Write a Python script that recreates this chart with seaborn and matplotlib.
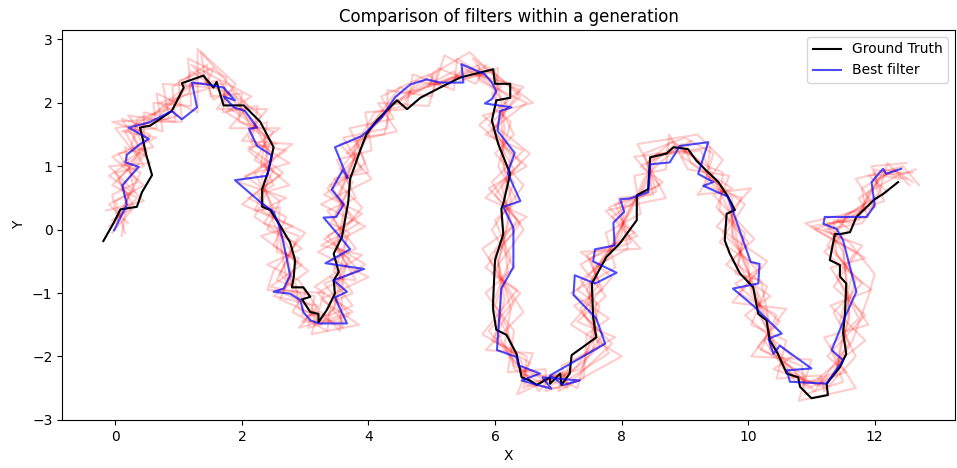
import numpy as np
import pandas as pd
import matplotlib
matplotlib.use("Agg")
import matplotlib.pyplot as plt
import seaborn as sns

# ground truth trajectory
truth_x = [-0.19, -0.03, 0.08, 0.34, 0.42, 0.58, 0.49, 0.44, 0.39, 0.55, 0.89, 1.08, 1.05, 1.39, 1.55, 1.60, 1.71, 2.03,
           2.29, 2.50, 2.42, 2.32, 2.32, 2.45, 2.61, 2.76, 2.84, 2.82, 2.79, 2.97, 3.08, 2.95, 3.08, 3.21, 3.21, 3.34,
           3.47, 3.45, 3.53, 3.45, 3.58, 3.68, 3.71, 3.87, 3.97, 4.13, 4.45, 4.61, 4.82, 5.13, 5.45, 5.97, 6.00, 6.24,
           6.24, 6.02, 5.95, 6.05, 6.24, 6.13, 6.10, 6.13, 6.00, 5.97, 5.97, 6.02, 6.18, 6.34, 6.42, 6.55, 6.66, 6.87,
           6.87, 7.03, 7.05, 7.18, 7.21, 7.60, 7.55, 7.53, 7.76, 7.97, 8.24, 8.24, 8.42, 8.45, 8.71, 8.82, 9.05, 9.18,
           9.34, 9.53, 9.68, 9.79, 9.66, 9.63, 9.71, 9.87, 10.08, 10.16, 10.29, 10.34, 10.47, 10.61, 10.79, 10.82,
           11.00, 11.26, 11.24, 11.45, 11.55, 11.50, 11.53, 11.55, 11.45, 11.45, 11.29, 11.37, 11.45, 11.61, 11.71,
           12.00, 12.13, 12.37]
truth_y = [-0.18, 0.10, 0.32, 0.36, 0.59, 0.86, 1.17, 1.40, 1.61, 1.64, 1.87, 2.24, 2.31, 2.43, 2.24, 2.33, 1.96, 1.96,
           1.70, 1.30, 0.93, 0.64, 0.36, 0.31, 0.05, -0.20, -0.48, -0.74, -0.91, -0.91, -1.06, -1.10, -1.30, -1.33,
           -1.46, -1.27, -1.01, -0.80, -0.67, -0.38, -0.12, 0.43, 0.80, 1.25, 1.51, 1.72, 2.04, 1.90, 2.08, 2.24, 2.40,
           2.53, 2.30, 2.30, 2.08, 2.04, 1.72, 1.35, 0.88, 0.41, 0.33, -0.07, -0.48, -1.11, -1.27, -1.58, -1.66, -1.96,
           -2.33, -2.38, -2.45, -2.33, -2.43, -2.27, -2.45, -2.27, -1.98, -1.70, -1.38, -0.85, -0.43, -0.22, 0.15,
           0.54, 0.64, 1.14, 1.20, 1.30, 1.27, 1.09, 0.93, 0.75, 0.52, 0.31, 0.25, -0.17, -0.38, -0.69, -0.91, -1.33,
           -1.43, -1.74, -1.96, -2.27, -2.33, -2.48, -2.66, -2.61, -2.43, -2.17, -1.96, -1.63, -1.33, -0.85, -0.74,
           -0.56, -0.48, -0.07, -0.07, -0.04, 0.20, 0.48, 0.56, 0.75]

# best filter estimate
best_x = [-0.02, 0.18, 0.11, 0.37, 0.16, 0.18, 0.39, 0.53, 0.21, 0.53, 0.89, 1.05, 1.29, 1.21, 1.45, 1.71, 1.89, 1.71,
          1.87, 2.05, 2.24, 2.11, 2.24, 2.47, 2.40, 1.89, 2.32, 2.50, 2.58, 2.66, 2.76, 2.66, 2.50, 2.76, 2.92, 2.97,
          3.08, 3.21, 3.66, 3.47, 3.66, 3.45, 3.93, 3.32, 3.71, 3.54, 3.29, 3.49, 3.61, 3.42, 3.60, 3.67, 3.47, 3.90,
          4.21, 4.42, 4.66, 4.92, 5.13, 5.50, 5.47, 5.84, 5.95, 6.02, 5.95, 5.84, 6.26, 6.08, 6.04, 6.31, 6.20, 6.40,
          6.13, 6.29, 6.29, 6.10, 6.03, 6.34, 6.37, 6.71, 6.42, 6.89, 6.75, 7.34, 7.08, 6.87, 7.74, 7.60, 7.24, 7.26,
          7.58, 7.92, 7.55, 7.58, 7.89, 7.87, 8.04, 7.98, 8.13, 8.42, 8.45, 8.76, 8.92, 9.37, 9.21, 9.45, 9.29, 9.68,
          10.04, 10.18, 10.16, 9.76, 10.08, 10.53, 10.32, 10.40, 10.50, 11.00, 10.61, 10.66, 11.24, 11.50, 11.32,
          11.53, 11.71, 11.50, 11.40, 11.19, 11.21, 11.87, 12.00, 11.95, 12.13, 12.18, 12.42]
best_y = [-0.01, 0.39, 0.70, 0.99, 1.06, 1.18, 1.35, 1.43, 1.61, 1.69, 1.87, 1.74, 1.93, 2.32, 2.29, 2.24, 2.04, 2.10,
          1.93, 1.87, 1.61, 1.59, 1.32, 1.17, 0.85, 0.78, 0.41, 0.28, 0.09, -0.22, -0.72, -0.93, -0.98, -1.01, -1.11,
          -1.30, -1.43, -1.48, -1.48, -1.07, -0.98, -0.80, -0.62, -0.53, -0.31, -0.10, 0.19, 0.20, 0.40, 0.63, 0.95,
          0.81, 1.30, 1.48, 1.77, 2.09, 2.29, 2.37, 2.32, 2.32, 2.61, 2.45, 2.32, 2.18, 2.06, 1.99, 1.93, 1.87, 1.56,
          1.21, 0.89, 0.45, 0.36, 0.03, -0.59, -0.93, -1.90, -2.01, -2.14, -2.27, -2.38, -2.51, -2.33, -2.38, -2.45,
          -2.30, -1.80, -1.40, -1.03, -0.72, -0.85, -0.68, -0.50, -0.31, -0.25, 0.11, 0.28, 0.48, 0.49, 0.59, 1.03,
          1.06, 1.32, 1.38, 0.88, 0.75, 0.69, 0.52, -0.51, -0.54, -0.85, -0.93, -1.20, -1.64, -1.72, -1.96, -1.83,
          -2.19, -2.22, -2.40, -2.43, -2.06, -1.90, -1.38, -0.98, -0.17, 0.01, 0.09, 0.20, 0.20, 0.38, 0.75, 0.96,
          0.88, 0.96]

# other filters of the generation
filt1_x = [0.05, -0.05, 0.35, 0.05, 0.6, 0.2, 0.95, 0.9, 1.45, 1.5, 2.0, 1.95, 2.5, 2.2, 2.6, 2.1, 2.7, 2.5, 2.95,
           2.45, 3.15, 3.05, 3.7, 3.3, 3.85, 3.35, 3.75, 3.4, 3.9, 3.6, 4.3, 4.3, 5.0, 5.1, 5.7, 5.85, 6.4, 5.9, 6.4,
           6.0, 6.35, 5.9, 6.3, 5.95, 6.5, 6.45, 7.05, 7.1, 7.8, 7.35, 7.65, 7.5, 8.15, 7.9, 8.55, 8.35, 9.0, 9.45,
           9.3, 9.9, 9.6, 10.15, 9.85, 10.45, 10.2, 10.85, 10.9, 11.5, 11.3, 11.75, 11.4, 11.7, 11.05, 11.85, 11.8,
           12.3, 12.6]
filt1_y = [0.1, 0.55, 0.75, 1.2, 1.3, 1.8, 1.7, 2.25, 2.6, 2.1, 2.15, 1.7, 1.55, 1.1, 0.85, 0.5, 0.2, -0.25, -0.55,
           -0.9, -1.05, -1.55, -1.35, -0.85, -0.65, -0.1, 0.15, 0.7, 0.95, 1.45, 1.6, 2.2, 2.1, 2.55, 2.3, 2.6, 2.1,
           1.65, 1.05, 0.55, 0.15, -0.45, -1.15, -1.75, -2.0, -2.5, -2.25, -2.4, -1.95, -1.25, -0.85, -0.45, -0.2,
           0.4, 0.6, 1.2, 1.45, 1.2, 0.7, 0.5, -0.05, -0.65, -1.0, -1.35, -1.9, -2.15, -2.6, -2.4, -1.85, -1.4,
           -0.75, -0.35, 0.0, 0.3, 0.65, 0.95, 0.75]
filt2_x = [-0.05, 0.3, 0.0, 0.45, 0.15, 0.65, 0.6, 1.2, 1.15, 1.75, 1.7, 2.25, 2.15, 2.7, 2.2, 2.5, 2.35, 2.9, 2.6,
           2.95, 2.8, 3.35, 3.4, 3.75, 3.4, 3.8, 3.35, 3.8, 3.5, 4.05, 3.95, 4.6, 4.7, 5.35, 5.4, 6.1, 5.95, 6.3, 6.0,
           6.45, 5.95, 6.3, 5.85, 6.3, 6.2, 6.8, 6.8, 7.4, 7.45, 7.8, 7.2, 7.9, 7.75, 8.3, 8.2, 8.7, 8.75, 9.05, 9.7,
           9.5, 10.0, 9.75, 10.3, 10.05, 10.6, 10.45, 11.15, 11.2, 11.7, 11.35, 11.8, 11.25, 11.5, 11.55, 12.15,
           11.95, 12.5]
filt2_y = [0.15, 0.35, 0.9, 1.0, 1.55, 1.6, 2.0, 1.95, 2.7, 2.4, 1.85, 1.95, 1.35, 1.25, 0.9, 0.35, 0.1, -0.1, -0.7,
           -1.05, -1.3, -1.6, -1.15, -1.0, -0.5, -0.3, 0.3, 0.5, 1.1, 1.25, 1.85, 1.9, 2.45, 2.2, 2.7, 2.25, 2.15,
           1.5, 1.2, 0.7, 0.0, -0.6, -1.0, -1.6, -2.25, -2.2, -2.55, -2.35, -1.65, -1.4, -1.0, -0.6, -0.05, 0.25,
           0.85, 0.95, 1.5, 0.95, 0.85, 0.35, -0.2, -0.5, -0.9, -1.5, -1.75, -2.35, -2.3, -2.55, -2.0, -1.3, -0.85,
           -0.25, 0.1, 0.25, 0.45, 1.0, 1.05]
filt3_x = [0.1, 0.2, 0.1, 0.5, 0.25, 0.35, 1.0, 0.95, 1.2, 1.7, 1.95, 2.0, 2.45, 2.35, 2.5, 2.25, 2.65, 2.6, 2.7,
           2.85, 2.9, 3.3, 3.6, 3.45, 3.7, 3.5, 3.65, 3.5, 3.8, 3.75, 4.1, 4.55, 4.75, 5.25, 5.5, 5.9, 6.2, 6.1,
           6.15, 6.3, 6.1, 6.2, 6.0, 6.2, 6.3, 6.7, 6.9, 7.3, 7.5, 7.65, 7.3, 7.75, 7.85, 8.2, 8.3, 8.55, 8.85, 9.25,
           9.55, 9.65, 9.85, 9.9, 10.2, 10.15, 10.5, 10.6, 11.05, 11.3, 11.6, 11.45, 11.65, 11.4, 11.35, 11.65, 12.0,
           12.05, 12.35]
filt3_y = [-0.1, 0.55, 0.65, 1.25, 1.3, 1.75, 1.95, 1.95, 2.5, 2.15, 1.85, 1.85, 1.4, 1.05, 0.7, 0.55, 0.0, -0.15,
           -0.75, -0.85, -1.25, -1.4, -1.55, -0.95, -0.45, -0.35, 0.35, 0.5, 1.15, 1.25, 1.85, 1.95, 2.35, 2.25,
           2.55, 2.3, 1.95, 1.75, 0.95, 0.75, 0.2, -0.65, -1.2, -1.55, -2.2, -2.4, -2.3, -2.5, -1.75, -1.2, -0.95,
           -0.4, -0.25, 0.45, 0.6, 1.2, 1.2, 1.25, 0.6, 0.6, -0.25, -0.45, -1.1, -1.3, -1.95, -2.1, -2.55, -2.2,
           -1.8, -1.45, -0.7, -0.4, 0.15, 0.1, 0.7, 0.8, 0.95]
filt4_x = [-0.1, 0.35, -0.05, 0.2, 0.55, -0.05, 0.85, 0.75, 1.45, 1.35, 2.1, 1.8, 2.6, 2.1, 2.75, 2.4, 2.2, 2.95,
           2.4, 2.9, 3.2, 2.95, 3.6, 3.2, 3.95, 3.3, 3.9, 3.3, 3.95, 3.7, 4.4, 4.2, 4.95, 5.1, 5.75, 5.75, 6.5, 5.85,
           6.45, 5.95, 6.45, 5.95, 6.4, 5.9, 6.45, 6.5, 7.15, 7.05, 7.9, 7.3, 7.75, 7.35, 8.2, 7.85, 8.65, 8.3, 9.1,
           8.95, 9.75, 9.45, 10.1, 9.65, 10.35, 9.95, 10.7, 10.4, 11.25, 11.1, 11.85, 11.3, 11.95, 11.2, 11.6, 11.4,
           12.2, 11.9, 12.6]
filt4_y = [0.05, 0.5, 0.7, 0.95, 1.5, 1.7, 1.75, 2.3, 2.25, 2.8, 1.95, 1.6, 1.6, 1.25, 0.7, 0.6, 0.2, -0.3, -0.55,
           -0.8, -1.25, -1.45, -1.45, -1.0, -0.55, -0.15, 0.25, 0.55, 1.05, 1.6, 1.75, 2.1, 2.45, 2.3, 2.6, 2.35,
           2.0, 1.5, 1.25, 0.75, 0.0, -0.7, -1.0, -1.6, -2.25, -2.2, -2.5, -2.15, -1.7, -1.45, -1.05, -0.55, -0.05,
           0.2, 0.75, 1.0, 1.4, 1.15, 0.65, 0.55, -0.15, -0.55, -1.05, -1.35, -2.0, -2.2, -2.5, -2.35, -1.75, -1.2,
           -0.95, -0.35, 0.0, 0.15, 0.6, 0.85, 0.9]
filt5_x = [0.05, 0.1, 0.4, 0.1, 0.45, 0.45, 0.7, 1.1, 1.25, 1.65, 1.8, 2.2, 2.25, 2.5, 2.3, 2.45, 2.5, 2.75, 2.85,
           2.65, 3.1, 3.15, 3.45, 3.55, 3.55, 3.65, 3.45, 3.7, 3.65, 3.95, 4.05, 4.5, 4.8, 5.3, 5.6, 6.0, 6.1, 6.15,
           6.1, 6.25, 6.2, 6.05, 6.15, 6.0, 6.4, 6.55, 7.0, 7.2, 7.65, 7.5, 7.5, 7.65, 8.0, 8.05, 8.45, 8.45, 8.95,
           9.15, 9.45, 9.75, 9.75, 10.0, 10.05, 10.3, 10.35, 10.7, 10.95, 11.4, 11.45, 11.6, 11.55, 11.5, 11.25,
           11.75, 11.9, 12.15, 12.4]
filt5_y = [0.2, 0.3, 0.9, 1.05, 1.25, 1.85, 1.8, 2.2, 2.3, 2.35, 2.1, 1.7, 1.55, 1.1, 0.85, 0.4, 0.1, -0.3, -0.55,
           -1.0, -1.2, -1.5, -1.25, -0.8, -0.7, -0.15, 0.15, 0.65, 0.9, 1.4, 1.65, 2.15, 2.2, 2.4, 2.4, 2.5, 2.0,
           1.6, 1.15, 0.5, 0.05, -0.5, -1.1, -1.7, -2.05, -2.4, -2.35, -2.25, -1.85, -1.3, -0.85, -0.55, -0.1, 0.4,
           0.65, 1.15, 1.25, 1.15, 0.8, 0.4, -0.05, -0.65, -0.9, -1.45, -1.8, -2.3, -2.4, -2.25, -1.95, -1.3, -0.85,
           -0.25, 0.1, 0.15, 0.6, 0.85, 0.8]
filt6_x = [0.0, 0.25, -0.1, 0.35, 0.0, 0.55, 1.05, 1.0, 1.55, 1.45, 1.9, 2.3, 2.1, 2.75, 2.05, 2.6, 2.4, 2.85, 2.55,
           3.0, 2.95, 3.4, 3.75, 3.4, 3.8, 3.45, 3.9, 3.45, 4.0, 3.8, 4.25, 4.35, 5.0, 5.0, 5.6, 6.05, 6.4, 5.95,
           6.3, 6.1, 6.3, 6.0, 6.25, 6.15, 6.25, 6.7, 6.85, 7.35, 7.7, 7.4, 7.6, 7.55, 8.1, 7.95, 8.5, 8.4, 8.8, 9.35,
           9.6, 9.55, 9.95, 9.8, 10.2, 10.35, 10.25, 10.75, 11.1, 11.25, 11.65, 11.9, 12.0, 11.6, 11.2, 11.8, 12.05,
           12.2, 12.55]
filt6_y = [0.1, 0.6, 0.85, 1.15, 1.6, 1.7, 1.7, 2.35, 2.55, 2.3, 2.1, 1.8, 1.45, 1.05, 0.85, 0.45, 0.0, -0.2, -0.8,
           -0.95, -1.35, -1.35, -1.2, -0.75, -0.8, -0.2, 0.35, 0.8, 0.9, 1.45, 1.5, 1.95, 2.3, 2.45, 2.8, 2.35, 2.2,
           1.55, 0.95, 0.7, -0.05, -0.35, -1.25, -1.8, -2.0, -2.55, -2.35, -2.2, -1.65, -1.35, -0.75, -0.6, -0.3,
           0.5, 0.55, 1.05, 1.4, 1.0, 0.9, 0.3, -0.05, -0.7, -0.8, -1.55, -1.75, -2.4, -2.4, -2.45, -1.75, -1.05,
           -0.7, -0.2, 0.0, 0.1, 0.5, 1.05, 0.7]
filt7_x = [-0.15, 0.45, -0.1, 0.55, 0.1, 0.75, 0.65, 1.3, 1.3, 1.9, 1.6, 2.4, 2.0, 2.8, 1.95, 2.7, 2.3, 3.0, 2.5,
           2.4, 3.3, 3.1, 3.85, 3.25, 4.0, 3.2, 3.95, 3.25, 4.05, 3.55, 4.45, 4.15, 4.95, 5.2, 5.85, 5.65, 6.6, 5.8,
           6.55, 5.85, 6.5, 5.8, 6.45, 5.85, 6.6, 6.35, 7.2, 7.0, 8.0, 7.2, 7.85, 7.35, 8.3, 7.75, 8.7, 8.25, 9.2,
           9.6, 9.2, 10.05, 9.5, 10.3, 9.75, 10.6, 10.05, 11.0, 10.8, 11.7, 11.2, 11.9, 11.3, 11.85, 10.9, 12.0,
           11.7, 12.45, 12.7]
filt7_y = [0.3, 0.45, 1.0, 1.05, 1.75, 1.55, 2.15, 1.85, 2.85, 2.3, 1.9, 1.9, 1.4, 1.35, 0.75, 0.5, 0.3, -0.05,
           -0.65, -0.95, -1.0, -1.65, -1.5, -1.1, -0.75, -0.35, 0.05, 0.4, 0.8, 1.35, 1.55, 2.0, 1.95, 2.75, 2.4,
           2.7, 2.0, 1.8, 1.2, 0.5, 0.2, -0.3, -1.3, -1.9, -1.95, -2.6, -2.2, -2.55, -2.0, -1.5, -0.75, -0.35, -0.3,
           0.3, 0.5, 1.35, 1.5, 1.1, 0.55, 0.65, 0.05, -0.5, -1.15, -1.25, -2.0, -2.05, -2.7, -2.5, -1.7, -1.5,
           -0.6, -0.45, 0.1, 0.35, 0.8, 1.0, 0.7]
filt8_x = [0.15, 0.0, 0.3, 0.15, 0.5, 0.3, 0.9, 0.85, 1.4, 1.55, 1.85, 2.15, 2.4, 2.3, 2.5, 2.2, 2.6, 2.55, 2.9, 2.6,
           3.05, 3.25, 3.55, 3.6, 3.45, 3.7, 3.4, 3.75, 3.55, 4.0, 4.0, 4.5, 4.7, 5.35, 5.45, 6.05, 6.0, 6.25, 6.05,
           6.35, 6.0, 6.25, 5.95, 6.25, 6.3, 6.5, 7.0, 7.2, 7.55, 7.6, 7.35, 7.8, 7.9, 8.15, 8.35, 8.6, 8.95, 9.1,
           9.55, 9.6, 9.9, 9.85, 10.15, 10.2, 10.45, 10.55, 11.1, 11.3, 11.55, 11.5, 11.7, 11.35, 11.4, 11.6, 12.05,
           12.0, 12.5]
filt8_y = [-0.05, 0.45, 0.6, 1.3, 1.15, 1.65, 2.0, 2.05, 2.45, 2.05, 2.2, 1.6, 1.7, 1.0, 0.95, 0.3, 0.35, -0.35,
           -0.45, -1.1, -1.3, -1.3, -1.6, -0.8, -0.65, -0.05, 0.1, 0.75, 0.95, 1.5, 1.6, 2.25, 2.15, 2.5, 2.35, 2.55,
           1.9, 1.7, 1.0, 0.45, 0.15, -0.45, -1.2, -1.75, -1.95, -2.45, -2.5, -2.1, -1.9, -1.15, -0.8, -0.45, -0.1,
           0.3, 0.8, 1.05, 1.35, 1.05, 0.7, 0.5, -0.15, -0.55, -1.05, -1.35, -1.9, -2.2, -2.45, -2.35, -1.85, -1.4,
           -0.8, -0.3, 0.0, 0.25, 0.55, 0.95, 0.8]
filt9_x = [-0.05, 0.25, 0.05, 0.4, 0.3, 0.4, 0.75, 1.15, 1.2, 1.7, 1.75, 2.05, 2.35, 2.4, 2.4, 2.3, 2.6, 2.65, 2.75,
           2.8, 2.95, 3.25, 3.45, 3.55, 3.65, 3.5, 3.6, 3.55, 3.75, 3.8, 4.2, 4.4, 4.9, 5.15, 5.6, 5.9, 6.2, 6.0,
           6.25, 6.15, 6.2, 6.05, 6.1, 6.05, 6.3, 6.65, 6.9, 7.3, 7.55, 7.6, 7.45, 7.7, 7.9, 8.15, 8.35, 8.55, 8.85,
           9.25, 9.45, 9.75, 9.75, 10.0, 10.05, 10.3, 10.35, 10.7, 10.95, 11.4, 11.45, 11.6, 11.55, 11.5, 11.25,
           11.75, 11.9, 12.15, 12.4]
filt9_y = [-0.05, 0.3, 0.8, 1.15, 1.45, 1.6, 1.95, 2.15, 2.3, 2.3, 1.95, 1.75, 1.5, 1.15, 0.75, 0.45, 0.1, -0.25,
           -0.55, -1.0, -1.1, -1.5, -1.25, -0.95, -0.55, -0.25, 0.25, 0.55, 1.05, 1.3, 1.75, 2.0, 2.3, 2.3, 2.5,
           2.35, 2.1, 1.55, 1.15, 0.55, 0.15, -0.55, -1.05, -1.65, -2.15, -2.3, -2.45, -2.15, -1.75, -1.35, -0.95,
           -0.45, -0.2, 0.4, 0.65, 1.1, 1.35, 1.05, 0.7, 0.5, -0.15, -0.55, -1.0, -1.35, -1.9, -2.2, -2.5, -2.3,
           -1.85, -1.4, -0.75, -0.35, 0.05, 0.25, 0.5, 0.95, 0.9]
filt10_x = [0.2, -0.1, 0.45, -0.05, 0.65, 0.1, 1.0, 0.7, 1.55, 1.2, 2.15, 1.75, 2.55, 2.1, 2.65, 2.0, 2.8, 2.3, 3.05,
            2.5, 3.2, 2.9, 3.75, 3.15, 3.9, 3.25, 3.85, 3.35, 3.85, 3.65, 4.35, 4.25, 5.05, 4.95, 5.8, 5.7, 6.45,
            5.75, 6.5, 5.9, 6.4, 5.85, 6.35, 5.8, 6.55, 6.4, 7.1, 7.15, 7.85, 7.25, 7.7, 7.45, 8.25, 7.8, 8.6, 8.2,
            9.05, 9.4, 9.35, 9.95, 9.55, 10.2, 9.8, 10.5, 10.15, 10.9, 10.85, 11.55, 11.25, 11.85, 11.35, 11.8, 11.0,
            11.9, 11.75, 12.35, 12.65]
filt10_y = [0.1, 0.4, 0.7, 1.15, 1.45, 1.55, 1.8, 2.0, 2.25, 2.6, 2.1, 1.85, 1.35, 1.3, 0.9, 0.4, 0.05, -0.1, -0.65,
            -1.05, -1.2, -1.55, -1.3, -0.9, -0.4, -0.25, 0.1, 0.65, 1.2, 1.2, 1.9, 1.85, 2.5, 2.25, 2.55, 2.45, 2.25,
            1.65, 1.0, 0.65, 0.1, -0.6, -0.95, -1.65, -2.1, -2.3, -2.3, -2.45, -1.8, -1.2, -0.95, -0.4, -0.1, 0.35,
            0.7, 1.15, 1.25, 1.3, 0.85, 0.4, -0.2, -0.6, -0.85, -1.45, -1.85, -2.3, -2.45, -2.25, -2.0, -1.35, -0.9,
            -0.25, 0.05, 0.2, 0.5, 0.85, 0.95]

filters = [(filt1_x, filt1_y), (filt2_x, filt2_y), (filt3_x, filt3_y), (filt4_x, filt4_y),
           (filt5_x, filt5_y), (filt6_x, filt6_y), (filt7_x, filt7_y), (filt8_x, filt8_y),
           (filt9_x, filt9_y), (filt10_x, filt10_y)]

fig = plt.figure(figsize=(9.57, 4.68), dpi=100)
ax = fig.add_axes([0.065, 0.103, 0.933, 0.833])

#draw every filter of the generation in faint red
for fx, fy in filters:
    sns.lineplot(x=fx, y=fy, sort=False, estimator=None, color='red', alpha=0.2, linewidth=1.5, ax=ax)

sns.lineplot(x=truth_x, y=truth_y, sort=False, estimator=None, color='black', linewidth=1.5,
             label='Ground Truth', ax=ax)
sns.lineplot(x=best_x, y=best_y, sort=False, estimator=None, color='blue', alpha=0.7, linewidth=1.5,
             label='Best filter', ax=ax)

ax.set_xlim(-0.84, 13.27)
ax.set_ylim(-3.0, 3.15)
ax.set_xticks([0, 2, 4, 6, 8, 10, 12])
ax.set_yticks([-3, -2, -1, 0, 1, 2, 3])
ax.set_title("Comparison of filters within a generation")
ax.set_xlabel("X")
ax.set_ylabel("Y")
ax.legend(loc='upper right')
fig.savefig("out.png", dpi=100)
